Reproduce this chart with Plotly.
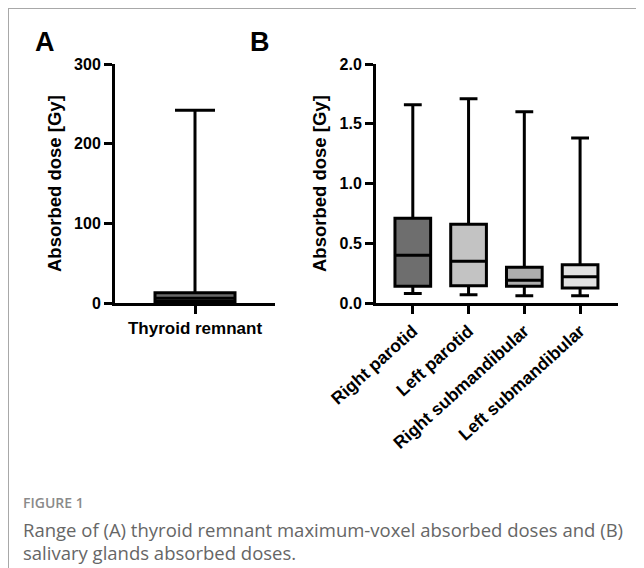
import plotly.graph_objects as go

# The page body has an 8px margin; the figure is sized so it fits the window.
REF_W, REF_H = 644, 568
OFF = 8
W, H = REF_W - OFF, REF_H - OFF

# Panel A data (thyroid remnant, Gy)
a_cat = ["Thyroid remnant"]
a_min = [0.5]
a_q1 = [2]
a_med = [6]
a_q3 = [13]
a_max = [242]
a_fill = ["#6a6a6a"]

# Panel B data (salivary glands, Gy)
b_cats = ["Right parotid", "Left parotid", "Right submandibular", "Left submandibular"]
b_min = [0.08, 0.07, 0.06, 0.06]
b_q1 = [0.14, 0.145, 0.14, 0.125]
b_med = [0.40, 0.35, 0.19, 0.22]
b_q3 = [0.71, 0.66, 0.30, 0.32]
b_max = [1.66, 1.71, 1.60, 1.38]
b_fill = ["#6e6e6e", "#c3c3c3", "#adadad", "#e1e1e1"]

a_ticks = [0, 100, 200, 300]
b_ticks = [0.0, 0.5, 1.0, 1.5, 2.0]

fig = go.Figure()

for i, c in enumerate(a_cat):
    fig.add_trace(go.Box(
        x=[c], q1=[a_q1[i]], median=[a_med[i]], q3=[a_q3[i]],
        lowerfence=[a_min[i]], upperfence=[a_max[i]],
        fillcolor=a_fill[i], line=dict(color="black", width=3),
        width=0.5, whiskerwidth=0.5, boxpoints=False,
        xaxis="x", yaxis="y", showlegend=False, hoverinfo="skip"))

for i, c in enumerate(b_cats):
    fig.add_trace(go.Box(
        x=[c], q1=[b_q1[i]], median=[b_med[i]], q3=[b_q3[i]],
        lowerfence=[b_min[i]], upperfence=[b_max[i]],
        fillcolor=b_fill[i], line=dict(color="black", width=3),
        width=0.64, whiskerwidth=0.5, boxpoints=False,
        xaxis="x2", yaxis="y2", showlegend=False, hoverinfo="skip"))

def px_x(p):
    return (p - OFF) / W

def px_y(p):
    return (REF_H - p) / H

ydom = [px_y(303), px_y(64)]
tickfont = dict(family="Liberation Sans, Arial", size=16, color="black", weight="bold")
catfont = dict(family="Liberation Sans, Arial", size=17, color="black", weight="bold")
axis_common = dict(showgrid=False, zeroline=False, showline=True, linecolor="black",
                   linewidth=3, ticks="outside", ticklen=8, tickwidth=3, tickcolor="black",
                   automargin=False)

fig.update_layout(
    template="none",
    width=W, height=H, margin=dict(l=0, r=0, t=0, b=0, autoexpand=False),
    paper_bgcolor="white", plot_bgcolor="white",
    xaxis=dict(domain=[px_x(115), px_x(275)], anchor="y", type="category",
               range=[-0.5, 0.5], tickfont=catfont, **axis_common),
    yaxis=dict(domain=ydom, anchor="x", range=[0, 300], tickvals=a_ticks,
               ticktext=[str(v) for v in a_ticks], tickfont=tickfont, **axis_common),
    xaxis2=dict(domain=[px_x(376), px_x(618)], anchor="y2", type="category",
                range=[-0.66, 3.68], tickangle=-42, tickfont=dict(catfont, size=17.5),
                **axis_common),
    yaxis2=dict(domain=ydom, anchor="x2", range=[0, 2.0], tickvals=b_ticks,
                ticktext=[f"{v:.1f}" for v in b_ticks], tickfont=tickfont, **axis_common),
)

title_font = dict(family="Liberation Sans, Arial", size=18.5, color="black", weight="bold")
letter_font = dict(family="Liberation Sans, Arial", size=27, color="black", weight="bold")
annots = [
    dict(text="Absorbed dose [Gy]", x=px_x(54), y=px_y(184), textangle=-90, font=title_font),
    dict(text="Absorbed dose [Gy]", x=px_x(319), y=px_y(184), textangle=-90, font=title_font),
    dict(text="A", x=px_x(45), y=px_y(42), font=letter_font),
    dict(text="B", x=px_x(260), y=px_y(42), font=letter_font),
]
for a in annots:
    fig.add_annotation(xref="paper", yref="paper", showarrow=False,
                       xanchor="center", yanchor="middle", **a)

fig.add_annotation(text="FIGURE 1", xref="paper", yref="paper", x=px_x(21), y=px_y(502),
                   xanchor="left", yanchor="middle", showarrow=False,
                   font=dict(family="Open Sans", size=14, color="#8a8a8a", weight=600))
fig.add_annotation(text="Range of (A) thyroid remnant maximum-voxel absorbed doses and (B)",
                   xref="paper", yref="paper", x=px_x(21), y=px_y(529),
                   xanchor="left", yanchor="middle", showarrow=False,
                   font=dict(family="Open Sans", size=18.5, color="#666666"))
fig.add_annotation(text="salivary glands absorbed doses.",
                   xref="paper", yref="paper", x=px_x(21), y=px_y(552),
                   xanchor="left", yanchor="middle", showarrow=False,
                   font=dict(family="Open Sans", size=18.5, color="#666666"))

# frame lines
fig.add_shape(type="line", xref="paper", yref="paper", x0=0.0, x1=1.0,
              y0=1.0, y1=1.0, line=dict(color="#a8a8a8", width=2))
fig.add_shape(type="line", xref="paper", yref="paper", x0=0.0, x1=0.0,
              y0=1.0, y1=0.0, line=dict(color="#a8a8a8", width=2))

fig.write_html("out.html")
